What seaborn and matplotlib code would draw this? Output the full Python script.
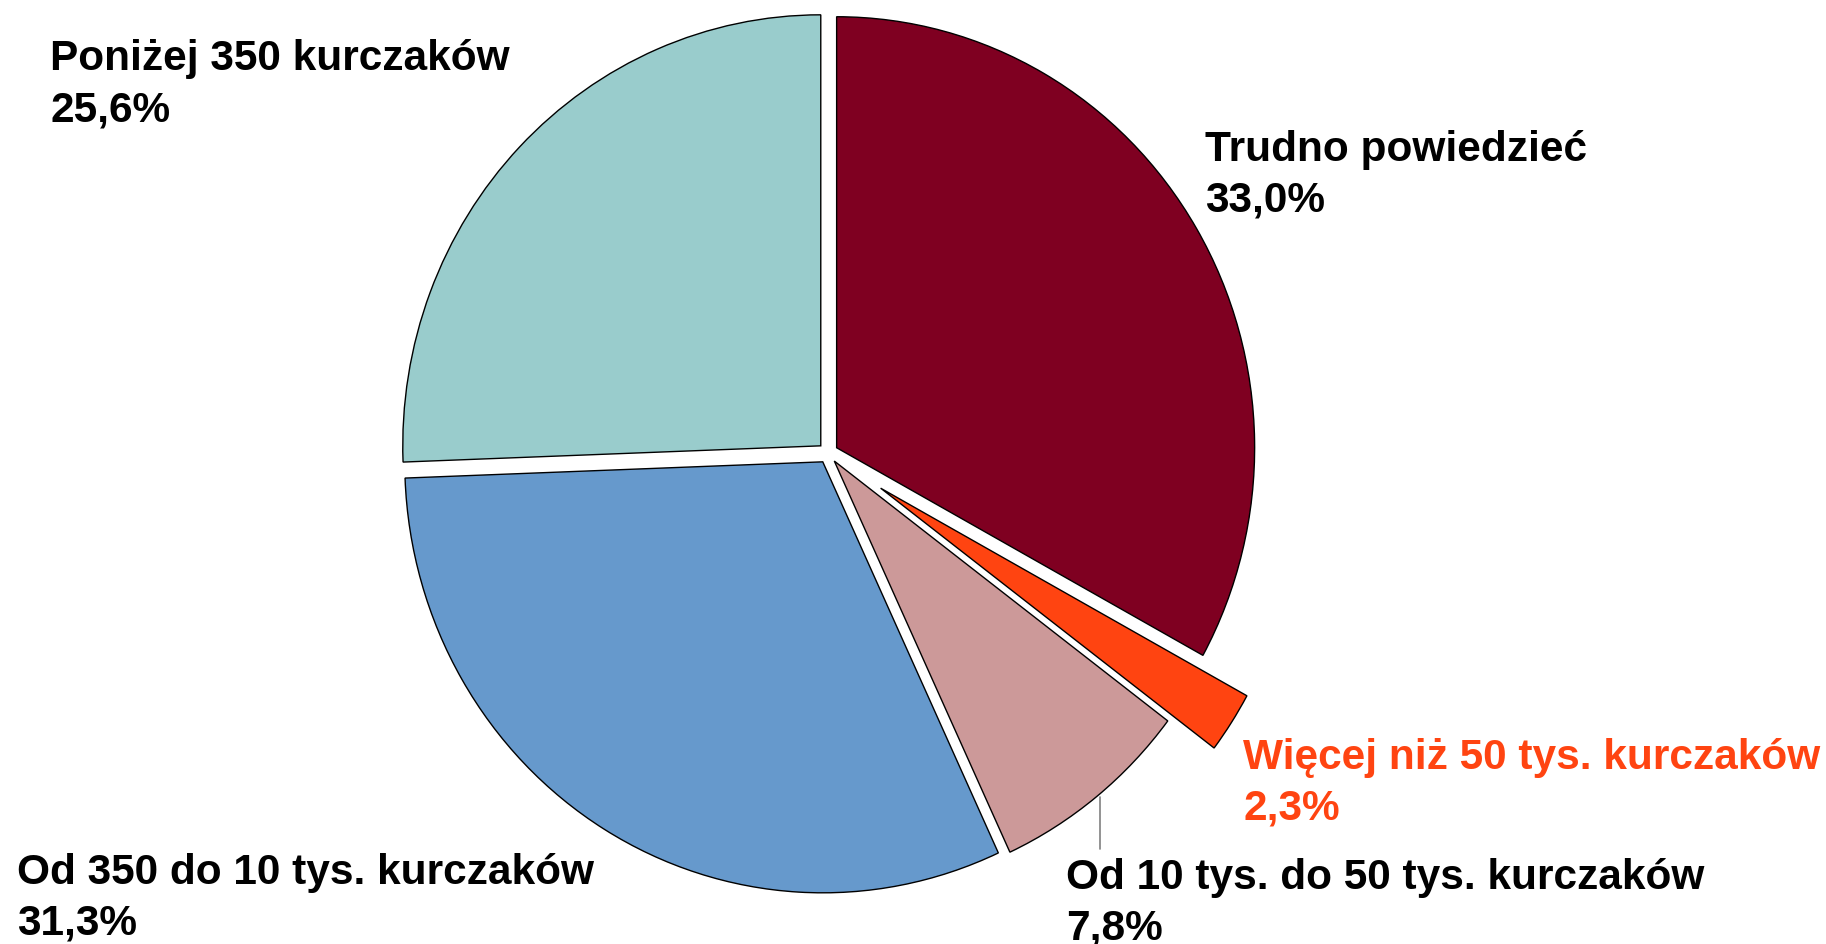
import matplotlib
matplotlib.use("Agg")
import matplotlib.pyplot as plt
import seaborn as sns
from matplotlib.lines import Line2D

# Data (clockwise from 12 o'clock)
categories = [
    "Trudno powiedzieć",
    "Więcej niż 50 tys. kurczaków",
    "Od 10 tys. do 50 tys. kurczaków",
    "Od 350 do 10 tys. kurczaków",
    "Poniżej 350 kurczaków",
]
shares = [33.0, 2.3, 7.8, 31.3, 25.6]
colors = ["#7F0021", "#FF4411", "#CC9999", "#6699CC", "#99CCCC"]
explode = [0.024, 0.15, 0.024, 0.024, 0.024]
label_colors = ["black", "#FF4411", "black", "black", "black"]

# label anchor: left x and baseline of the percentage line, in pixels from top-left
label_pos = [(1205, 212), (1243, 820), (1066, 940), (17, 935), (50, 121)]

W, H = 1826, 945
sns.set_theme(style="white")
plt.rcParams["font.family"] = ["Liberation Sans", "DejaVu Sans"]

fig = plt.figure(figsize=(W / 100, H / 100), dpi=100)
ax = fig.add_axes([0, 0, 1, 1])

ax.pie(
    shares,
    colors=colors,
    explode=explode,
    startangle=90,
    counterclock=False,
    wedgeprops=dict(edgecolor="black", linewidth=1.0),
)

# pie centre and radii in pixels (picture is slightly squeezed horizontally)
cx, cy = 828, 454
rx, ry = 418, 431
ax.set_aspect("auto")
ax.set_xlim(-cx / rx, (W - cx) / rx)
ax.set_ylim(-(H - cy) / ry, cy / ry)
ax.axis("off")

for name, val, (px, py), col in zip(categories, shares, label_pos, label_colors):
    pct = f"{val:.1f}".replace(".", ",") + "%"
    fig.text(px / W, 1 - py / H, f"{name}\n{pct}", ha="left", va="baseline",
             fontsize=30.5, fontweight="bold", color=col, linespacing=1.37)

# leader line for the small slice label
fig.add_artist(Line2D([1100 / W, 1100 / W], [1 - 798 / H, 1 - 850 / H],
                      transform=fig.transFigure, color="#808080", linewidth=1.2))

fig.savefig("out.png", dpi=100, facecolor="white")
